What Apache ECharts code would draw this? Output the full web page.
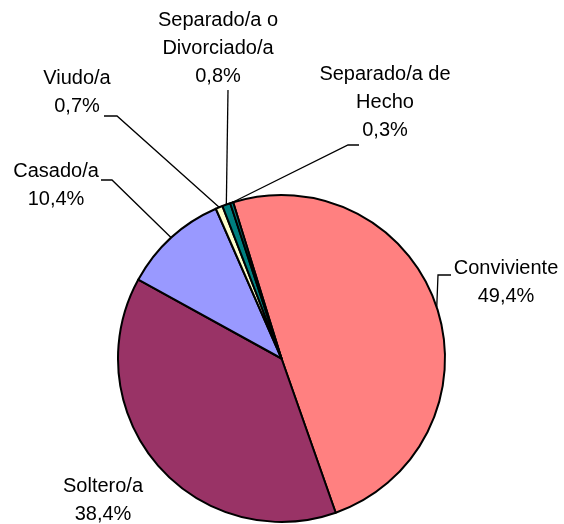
<!DOCTYPE html>
<html>
<head>
<meta charset="utf-8">
<script src="https://cdn.jsdelivr.net/npm/echarts@6/dist/echarts.min.js"></script>
<style>
  html, body { margin: 0; padding: 0; background: #fff; }
  #chart { width: 564px; height: 524px; }
</style>
</head>
<body>
<div id="chart"></div>
<script>
// estado civil, % (clockwise from the Conviviente slice)
var categories = ["Conviviente", "Soltero/a", "Casado/a", "Viudo/a", "Separado/a o\nDivorciado/a", "Separado/a de\nHecho"];
var percentages = [49.4, 38.4, 10.4, 0.7, 0.8, 0.3];
var sliceColors = ["#FF8080", "#993366", "#9999FF", "#FFFFCC", "#008080", "#008080"];

// where each label sits (text centre) and the bend of its leader line
var labelSpots = [
  { x: 506, y: 282, line: [[438, 275], [451, 275]] },
  { x: 103, y: 500, line: null },
  { x: 56, y: 185, line: [[112, 180], [101, 180]] },
  { x: 77, y: 92, line: [[117, 116], [104, 116]] },
  { x: 218, y: 48, line: [[228, 90]] },
  { x: 385, y: 102, line: [[348, 145], [359, 145]] }
];

var chart = echarts.init(document.getElementById("chart"));

chart.setOption({
  animation: false,
  series: [
    {
      type: "pie",
      center: [281.5, 358.5],
      radius: [0, 163.5],
      startAngle: 107.2,
      clockwise: true,
      minAngle: 0,
      avoidLabelOverlap: false,
      itemStyle: {
        borderColor: "#000",
        borderWidth: 2,
      },
      label: {
        show: true,
        position: "outside",
        color: "#000",
        fontFamily: "'Liberation Sans', Arial, sans-serif",
        fontSize: 20,
        lineHeight: 28,
        align: "center",
        formatter: function (p) {
          return p.name + "\n" + String(p.value).replace(".", ",") + "%";
        },
      },
      labelLine: {
        show: true,
        lineStyle: { color: "#000", width: 1.3 },
      },
      labelLayout: function (params) {
        var spot = labelSpots[params.dataIndex];
        var out = { x: spot.x, y: spot.y, align: "center", verticalAlign: "middle" };
        if (spot.line && params.labelLinePoints) {
          out.labelLinePoints = [params.labelLinePoints[0]].concat(spot.line);
        } else {
          out.labelLinePoints = [[0, 0], [0, 0]];
        }
        return out;
      },
      emphasis: { disabled: true },
      data: categories.map(function (name, i) {
        return {
          name: name,
          value: percentages[i],
          itemStyle: { color: sliceColors[i] },
          labelLine: { show: labelSpots[i].line !== null },
        };
      }),
    },
  ],
});
</script>
</body>
</html>
